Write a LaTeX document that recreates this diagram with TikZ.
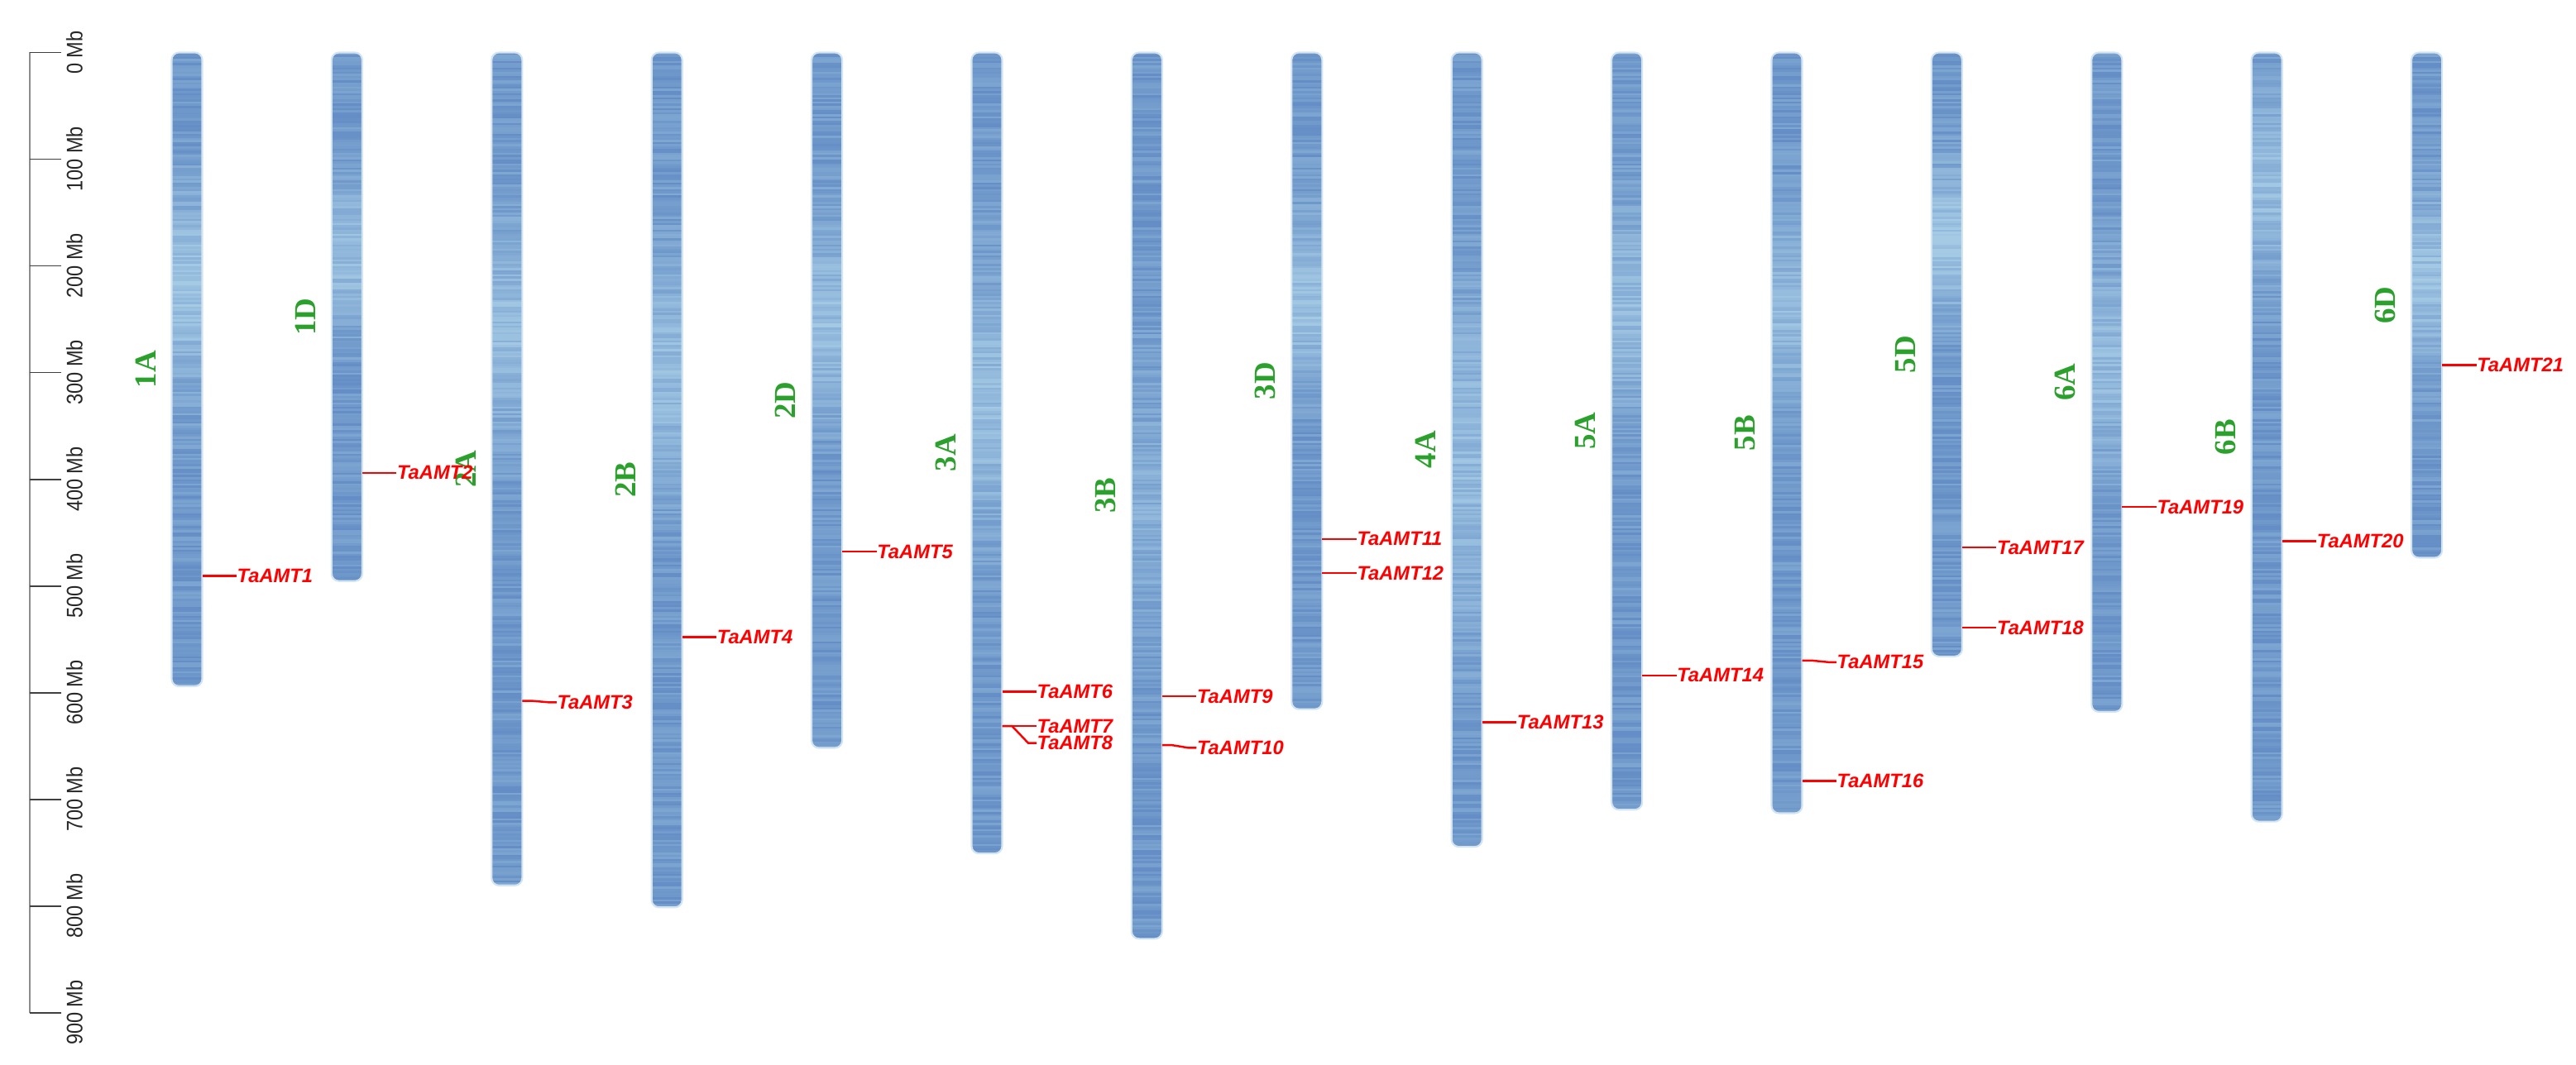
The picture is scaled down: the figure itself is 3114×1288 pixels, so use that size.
\documentclass[tikz,border=0pt]{standalone}
\usepackage{fontspec}
\setmainfont{Liberation Serif}
\newfontfamily\genefont{Liberation Sans}
\newfontfamily\axisfont{Liberation Sans}[FakeStretch=0.87]
\usetikzlibrary{calc}

\definecolor{chrdark}{RGB}{100,142,197}
\definecolor{chrlight}{RGB}{164,202,228}
\definecolor{chrgreen}{RGB}{44,160,44}
\definecolor{axisgray}{RGB}{140,140,140}

\begin{document}
\begin{tikzpicture}[x=0.01cm, y=-0.01cm,
		chrlabel/.style={rotate=90, text=chrgreen, inner sep=0, font=\fontsize{10.5}{12}\selectfont\bfseries},
		genelabel/.style={anchor=west, text=red, inner sep=0, font=\genefont\fontsize{6.75}{8}\selectfont\bfseries\itshape},
		geneline/.style={red, line width=0.7pt},
		mblabel/.style={rotate=90, inner sep=0, text=black!85, font=\axisfont\fontsize{7.7}{9}\selectfont}]

	\useasboundingbox (0,0) rectangle (3114,1288);

	% from here on y is in Mb: 0 Mb sits 63.5 px down
	\begin{scope}[shift={(0,63.5)}, y=-0.012894cm]
		\pgfmathsetseed{42}

		\draw [axisgray, line width=0.85pt] (36, 0) -- (36, 900);
		\foreach \m in {0,100,...,900} {
			\draw [black!75, line width=0.55pt] (36, \m) -- (74, \m);
			\node [mblabel] (mb\m) at (90, \m) {\m\ Mb};
		}

		% centre x / length / name / pale part: centre, width, strength
		\foreach \cx/\len/\nm/\lc/\lw/\la in {
				226/594.1/1A/220/90/70, 419.4/495.5/1D/190/70/60,
				612.8/780.8/2A/260/100/60, 806.2/801.3/2B/300/110/55,
				999.6/651.9/2D/250/90/60, 1193/750.8/3A/330/120/60,
				1386.4/830.8/3B/420/130/35, 1579.8/615.6/3D/230/80/65,
				1773.2/744.6/4A/380/170/55, 1966.6/709.8/5A/240/100/55,
				2160/713.1/5B/240/90/55, 2353.4/566.1/5D/175/70/75,
				2546.8/618.1/6A/290/100/55, 2740.2/721/6B/120/90/60,
				2933.6/473.6/6D/210/80/65} {
			\begin{scope}
				\clip [rounded corners=2.5pt] (\cx-18.5, 0) rectangle (\cx+18.5, \len);
				\foreach \y in {0,2,...,\len} {
					\pgfmathsetmacro\d{min(abs(\y-\lc)/\lw, 3)}
					\pgfmathtruncatemacro\t{max(0, min(100, \la*exp(-\d*\d) + 45*rnd - 5))}
					\fill [chrlight!\t!chrdark] (\cx-18.5, \y) rectangle (\cx+18.5, \y+2.4);
				}
			\end{scope}
			\draw [chrlight!50!white, line width=0.6pt, rounded corners=2.5pt] (\cx-18.5, 0) rectangle (\cx+18.5, \len);
			\node [chrlabel] (chr\nm) at (\cx-50, \len/2) {\nm};
		}

		% genes: chromosome x / position / number / shift of the label
		\foreach \cx/\mb/\gid/\off in {
				226/490.5/1/0, 419.4/394/2/0, 612.8/607.8/3/1.3,
				806.2/548/4/0, 999.6/468/5/0, 1193/599.1/6/0,
				1193/631.5/7/0, 1193/631.5/8/15.9, 1386.4/603.5/9/0,
				1386.4/649.3/10/2.5, 1579.8/456/11/0, 1579.8/488/12/0,
				1773.2/627.8/13/0, 1966.6/584/14/0, 2160/570/15/1.5,
				2160/683/16/0, 2353.4/464/17/0, 2353.4/539/18/0,
				2546.8/426/19/0, 2740.2/458/20/0, 2933.6/293/21/0} {
			\coordinate (g\gid) at (\cx+18.5, \mb);
			\node [genelabel] (amt\gid) at (\cx+60, \mb+\off) {TaAMT\gid};
			\draw [geneline] (g\gid) -- ++(12, 0) -- ($(amt\gid.west)+(-10,0)$) -- (amt\gid.west);
		}
	\end{scope}
\end{tikzpicture}
\end{document}
